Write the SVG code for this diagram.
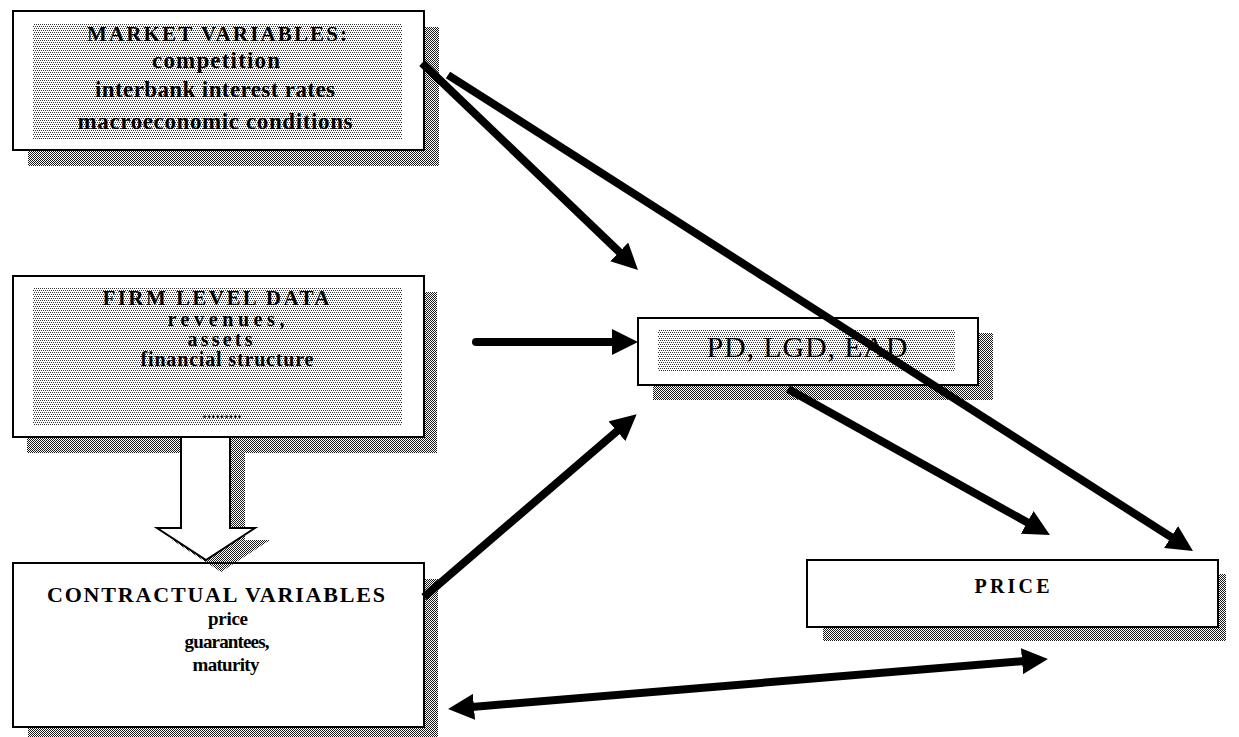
<svg xmlns="http://www.w3.org/2000/svg" width="1239" height="737" viewBox="0 0 1239 737">
<style>
.bg{fill:#ffffff}
.box{fill:#ffffff;stroke:#000000;stroke-width:2}
.shadow{fill:url(#dense)}
.inner{fill:url(#light)}
.t{font-family:"Liberation Serif","Times New Roman",serif;font-weight:bold;fill:#000000;text-anchor:middle}
.r{font-family:"Liberation Serif","Times New Roman",serif;font-weight:normal;fill:#000000;text-anchor:middle}
.conn{stroke:#000000;stroke-width:8;fill:none;marker-end:url(#ah)}
</style>
<defs>
<pattern id="dense" patternUnits="userSpaceOnUse" width="2" height="2">
<rect x="0" y="0" width="1" height="1" fill="#1a1a1a"/>
<rect x="1" y="1" width="1" height="1" fill="#1a1a1a"/>
</pattern>
<pattern id="light" patternUnits="userSpaceOnUse" width="4" height="4">
<rect x="0" y="0" width="1" height="1" fill="#333333"/>
<rect x="2" y="0" width="1" height="1" fill="#333333"/>
<rect x="1" y="2" width="1" height="1" fill="#333333"/>
<rect x="3" y="2" width="1" height="1" fill="#333333"/>
</pattern>
<marker id="ah" markerUnits="userSpaceOnUse" markerWidth="26" markerHeight="26" viewBox="0 -13 26 26" refX="8" refY="0" orient="auto-start-reverse">
<path d="M0,-13 L26,0 L0,13 z" fill="#000000"/>
</marker>
</defs>
<rect class="bg" x="0" y="0" width="1239" height="737"/>

<g id="market">
<rect class="shadow" x="28" y="27" width="411" height="139"/>
<rect class="box" x="13" y="11" width="411" height="139"/>
<rect class="inner" x="33" y="23" width="369" height="117"/>
<text class="t" x="217" y="41" font-size="21" textLength="260" lengthAdjust="spacing">MARKET VARIABLES:</text>
<text class="t" x="216" y="68" font-size="23" textLength="128" lengthAdjust="spacing">competition</text>
<text class="t" x="215" y="97" font-size="23" textLength="240" lengthAdjust="spacing">interbank interest rates</text>
<text class="t" x="215" y="129" font-size="23" textLength="275" lengthAdjust="spacing">macroeconomic conditions</text>
</g>

<g id="firm">
<rect class="shadow" x="27" y="292" width="410" height="161"/>
<rect class="box" x="13" y="276" width="411" height="161"/>
<rect class="inner" x="33" y="288" width="369" height="137"/>
<text class="t" x="216" y="305" font-size="21" textLength="227" lengthAdjust="spacing">FIRM LEVEL DATA</text>
<text class="t" x="226" y="326" font-size="20" textLength="117" lengthAdjust="spacing">revenues,</text>
<text class="t" x="220" y="346" font-size="20" textLength="65" lengthAdjust="spacing">assets</text>
<text class="t" x="227" y="366" font-size="20" textLength="173" lengthAdjust="spacing">financial structure</text>
<text class="t" x="222" y="418" font-size="16" textLength="39" lengthAdjust="spacing">.........</text>
</g>

<g id="contractual">
<rect class="shadow" x="28" y="579" width="410" height="164"/>
<rect class="box" x="13" y="563" width="411" height="164"/>
<text class="t" x="216" y="602" font-size="22" textLength="338" lengthAdjust="spacing">CONTRACTUAL VARIABLES</text>
<text class="t" x="228" y="625" font-size="19" textLength="40" lengthAdjust="spacing">price</text>
<text class="t" x="227" y="648" font-size="19" textLength="85" lengthAdjust="spacing">guarantees,</text>
<text class="t" x="226" y="671" font-size="19" textLength="67" lengthAdjust="spacing">maturity</text>
</g>

<g id="pd">
<rect class="shadow" x="653" y="333" width="340" height="67"/>
<rect class="box" x="638" y="318" width="340" height="67"/>
<rect class="inner" x="658" y="330" width="297" height="42"/>
<text class="r" x="807" y="357" font-size="30" textLength="201" lengthAdjust="spacing">PD, LGD, EAD</text>
</g>

<g id="price">
<rect class="shadow" x="823" y="574" width="403" height="67"/>
<rect class="box" x="807" y="560" width="411" height="67"/>
<text class="t" x="1012" y="593" font-size="20" textLength="75" lengthAdjust="spacing">PRICE</text>
</g>

<g id="connectors">
<polygon class="shadow" points="196,437 196,540 172,540 221,572 270,540 245,540 245,437"/>
<polygon points="181,437 181,528 157,528 206,560 255,528 230,528 230,437" fill="#ffffff" stroke="#000000" stroke-width="2" stroke-linejoin="miter"/>
<line class="conn" x1="422" y1="63" x2="625" y2="257.5"/>
<line class="conn" x1="448" y1="75" x2="1177.8" y2="541.3"/>
<line class="conn" x1="476" y1="342" x2="620" y2="342" stroke-linecap="round"/>
<line class="conn" x1="424" y1="597" x2="623" y2="426"/>
<line class="conn" x1="788" y1="389" x2="1034.2" y2="526.3"/>
<line class="conn" x1="466" y1="707.5" x2="1030" y2="660.5" style="marker-start:url(#ah)"/>
</g>
</svg>
